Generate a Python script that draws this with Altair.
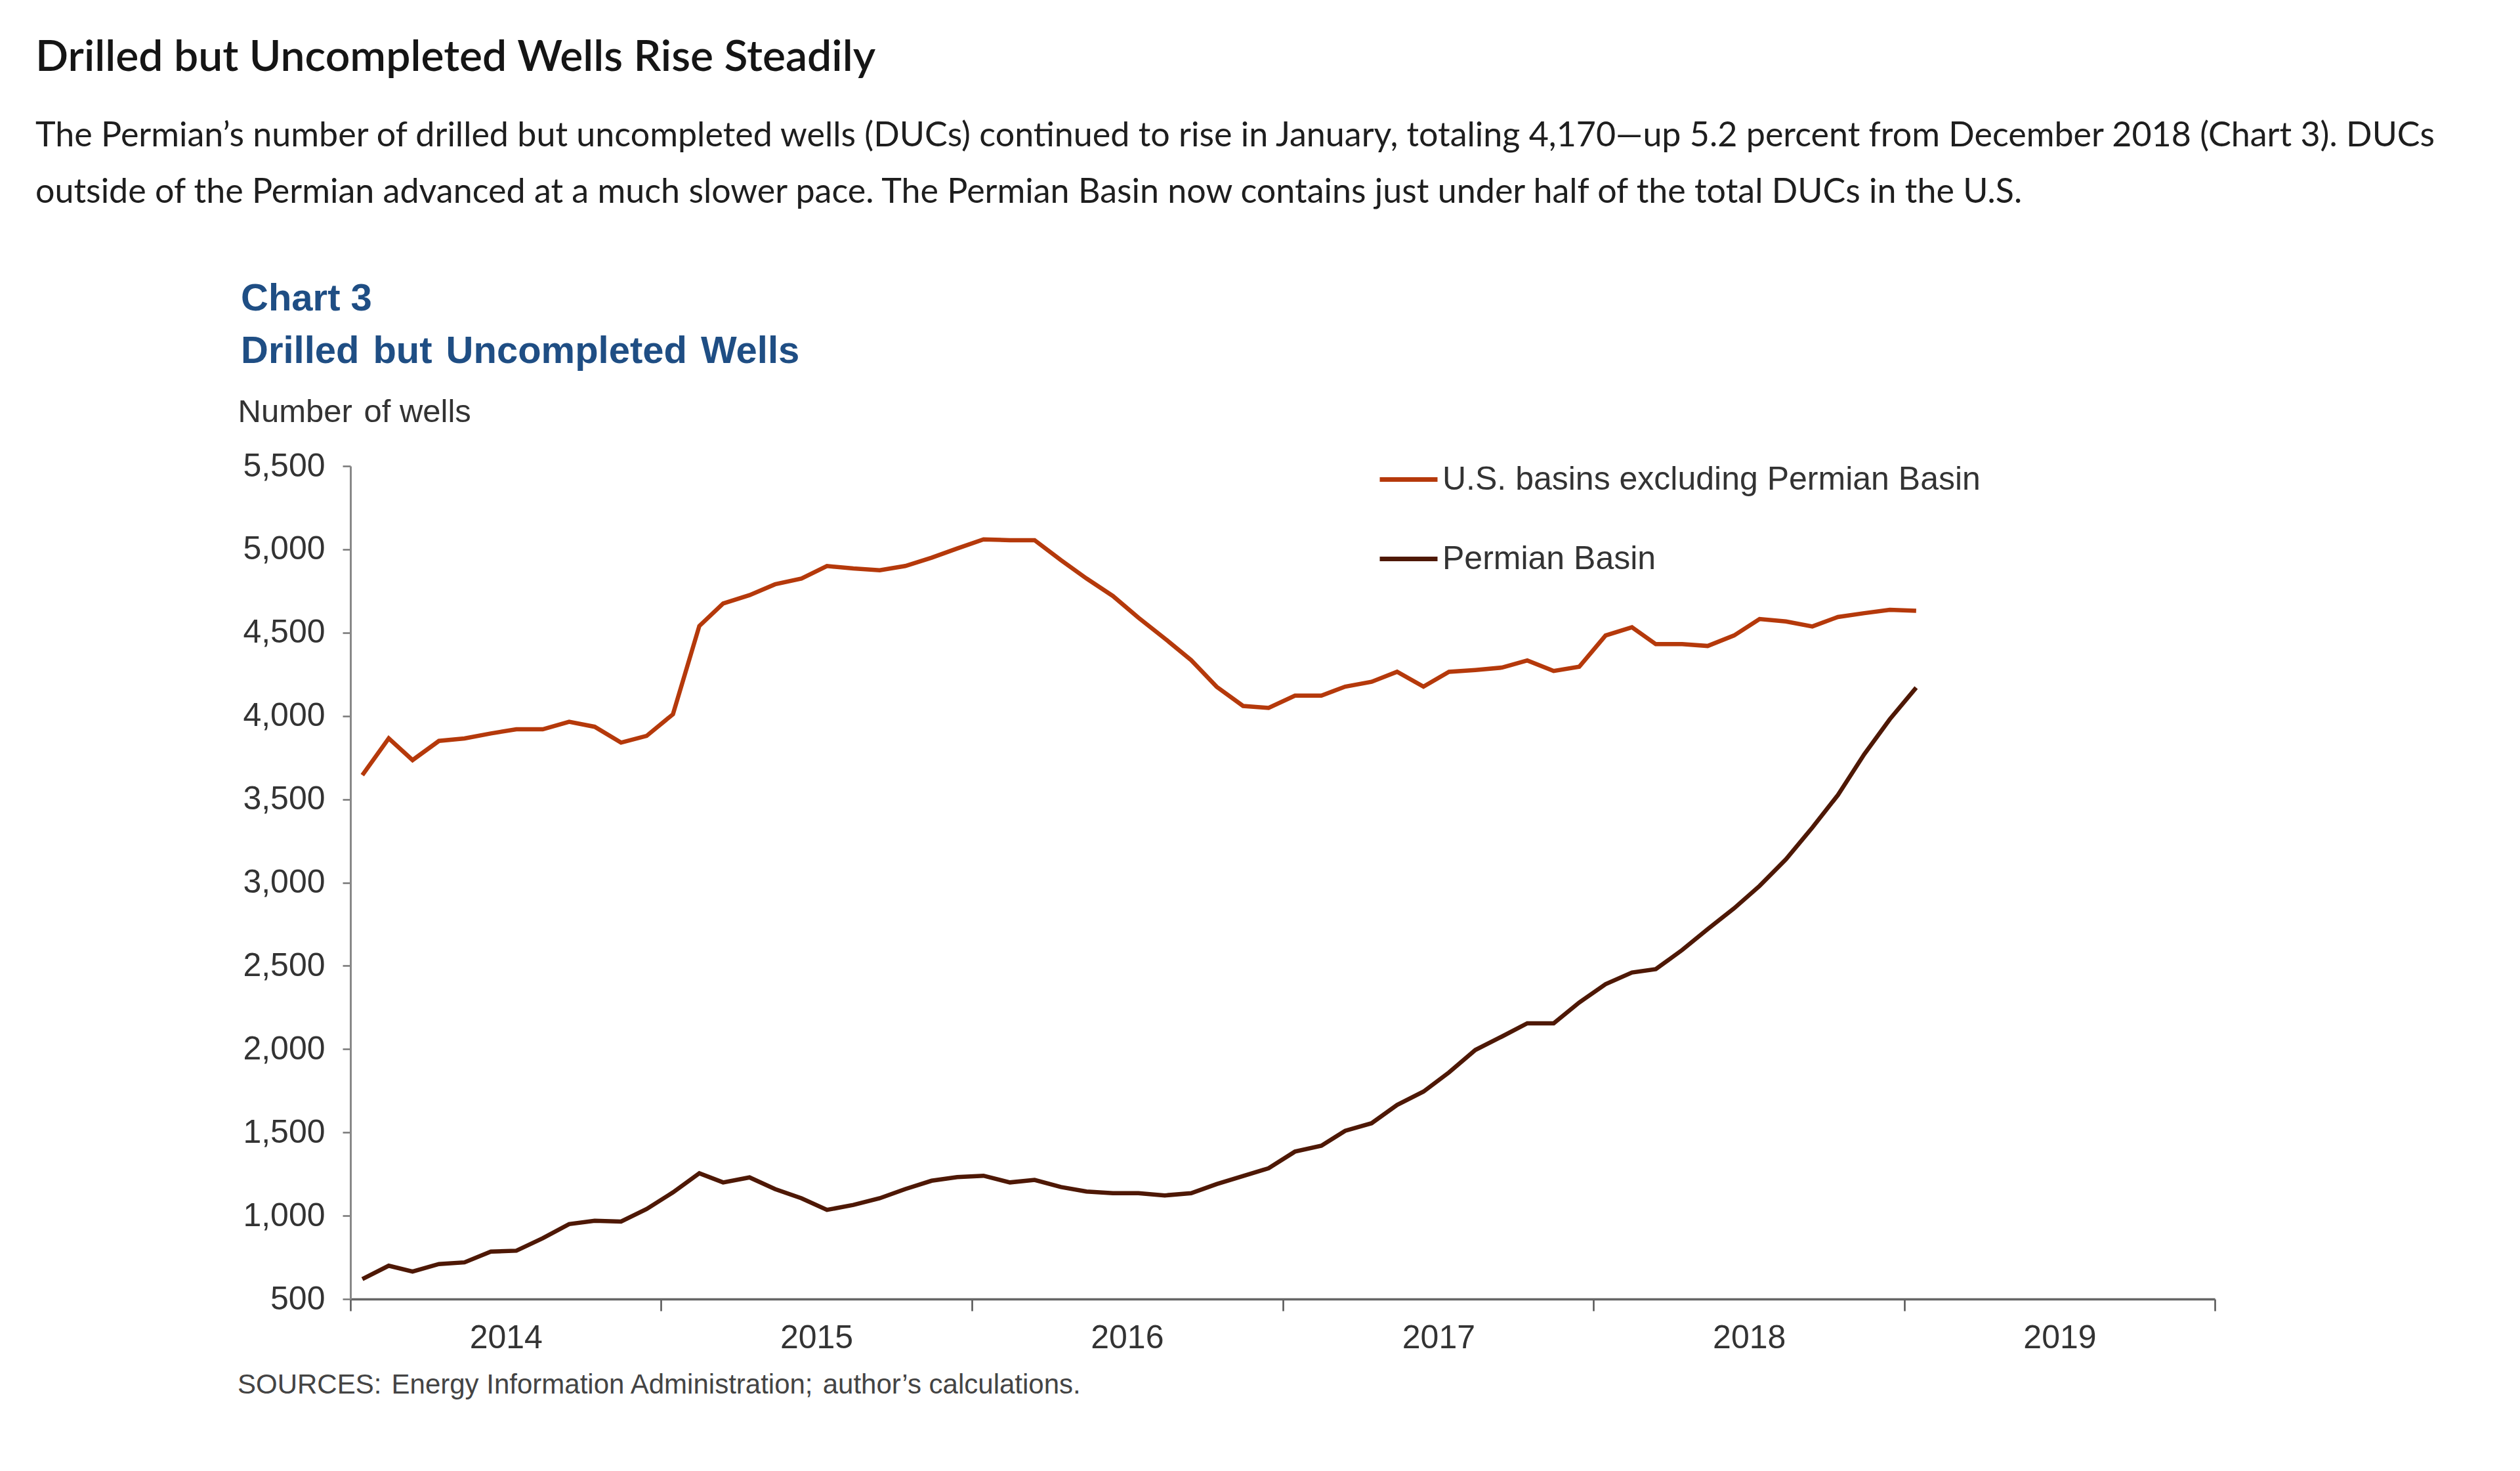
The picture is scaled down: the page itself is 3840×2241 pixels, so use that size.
import altair as alt
import pandas as pd

# ---------------- data ----------------
series_names = ["U.S. basins excluding Permian Basin", "Permian Basin"]
series_colors = ["#B5390B", "#4E1805"]

# monthly, Jan 2014 .. Jan 2019
us_ex_permian = [
    3645, 3865, 3735, 3850, 3865, 3895, 3920, 3920, 3965, 3935, 3840, 3880,
    4010, 4540, 4675, 4725, 4790, 4825, 4900, 4885, 4875, 4900, 4950, 5005,
    5060, 5055, 5055, 4935, 4825, 4720, 4590, 4465, 4335, 4175, 4060, 4048,
    4122, 4122, 4176, 4205, 4265, 4176, 4265, 4276, 4290, 4333, 4270, 4295,
    4483, 4532, 4431, 4431, 4420, 4483, 4582, 4567, 4537, 4594, 4617, 4637,
    4631,
]
permian = [
    620, 700, 665, 710, 720, 785, 790, 865, 950, 970, 965, 1040,
    1140, 1255, 1200, 1230, 1160, 1105, 1035, 1065, 1105, 1160, 1210, 1232,
    1240, 1200, 1215, 1172, 1145, 1135, 1135, 1122, 1135, 1190, 1238, 1285,
    1385, 1420, 1510, 1555, 1665, 1745, 1860, 1995, 2075, 2155, 2155, 2280,
    2390, 2460, 2480, 2595, 2720, 2845, 2980, 3140, 3330, 3525, 3770, 3980,
    4170,
]
months = pd.date_range("2014-01-01", periods=len(permian), freq="MS") + pd.Timedelta(days=14)

year_ticks = [2014, 2015, 2016, 2017, 2018, 2019, 2020]
y_ticks = [500, 1000, 1500, 2000, 2500, 3000, 3500, 4000, 4500, 5000, 5500]

page_title = "Drilled but Uncompleted Wells Rise Steadily"
paragraph = (
    "The Permian\u2019s number of drilled but uncompleted wells (DUCs) continued to rise in January, "
    "totaling 4,170\u2014up 5.2 percent from December 2018 (Chart 3). DUCs\n"
    "outside of the Permian advanced at a much slower pace. The Permian Basin now contains "
    "just under half of the total DUCs in the U.S."
)
GAP = " \u200a"
chart_title = "Chart 3\nDrilled" + GAP + "but" + GAP + "Uncompleted" + GAP + "Wells"
y_title = "Number" + GAP + "of wells"
sources = "SOURCES:" + GAP + "Energy Information Administration;" + GAP + "author\u2019s calculations."

df = pd.DataFrame({
    "date": list(months) * 2,
    "value": us_ex_permian + permian,
    "series": [series_names[0]] * len(us_ex_permian) + [series_names[1]] * len(permian),
})

# ---------------- layout ----------------
W, H = 2841, 1269
FONT = "Liberation Sans"
year_w = W / 6.0

x_enc = alt.X(
    "date:T",
    scale=alt.Scale(domain=[alt.DateTime(year=2014, month=1, date=1),
                            alt.DateTime(year=2020, month=1, date=1)]),
    axis=alt.Axis(
        values=[alt.DateTime(year=y, month=1, date=1) for y in year_ticks],
        labelExpr="year(datum.value) > 2019 ? '' : timeFormat(datum.value, '%Y')",
        labelOffset=year_w / 2,
        labelFlush=False,
        labelOverlap=False,
        labelFont=FONT, labelFontSize=50, labelColor="#333333",
        labelPadding=16,
        tickSize=18, tickColor="#555555", tickWidth=2.5,
        domainColor="#666666", domainWidth=3.5,
        grid=False, title=None,
    ),
)
y_enc = alt.Y(
    "value:Q",
    scale=alt.Scale(domain=[500, 5500], nice=False, zero=False),
    axis=alt.Axis(
        values=y_ticks, format=",.0f",
        labelFont=FONT, labelFontSize=50, labelColor="#333333",
        labelPadding=27,
        tickSize=12, tickColor="#777777", tickWidth=2.5,
        domainColor="#888888", domainWidth=3,
        grid=False,
        title=y_title, titleAngle=0, titleX=-172, titleY=-68,
        titleAlign="left", titleBaseline="alphabetic",
        titleFont=FONT, titleFontSize=49, titleFontWeight="normal", titleColor="#333333",
    ),
)

lines = alt.Chart(df).mark_line(strokeWidth=6.5).encode(
    x=x_enc,
    y=y_enc,
    color=alt.Color(
        "series:N",
        scale=alt.Scale(domain=series_names, range=series_colors),
        legend=alt.Legend(
            orient="none", legendX=1565, legendY=-27, title=None,
            symbolType="stroke", symbolSize=7744, symbolStrokeWidth=7,
            labelFont=FONT, labelFontSize=50, labelColor="#333333", labelLimit=2000,
            labelOffset=4, rowPadding=48, padding=0,
        ),
    ),
    detail="series:N",
)

def text_layer(txt, x, y, **kw):
    return alt.Chart(pd.DataFrame({"t": [txt]})).mark_text(
        align="left", baseline="alphabetic", lineBreak="\n", **kw
    ).encode(x=alt.value(x), y=alt.value(y), text="t:N")

heading = text_layer(page_title, -480, -602, font="Lato", fontSize=66,
                     fontWeight=600, color="#151515")
para = text_layer(paragraph, -480, -487, font="Lato", fontSize=52,
                  lineHeight=86, color="#1e1e1e")
ctitle = text_layer(chart_title, -167, -237, font=FONT, fontSize=58,
                    fontWeight="bold", lineHeight=80, color="#1F4E84")
src = text_layer(sources, -172, 1413, font=FONT, fontSize=42, color="#444444")

chart = alt.layer(lines, heading, para, ctitle, src).properties(
    width=W, height=H,
    padding={"left": 46, "top": 47, "right": 5, "bottom": 5},
).configure(background="white").configure_view(strokeWidth=0)

chart.save("out.html", embed_options={"renderer": "svg", "actions": False})
